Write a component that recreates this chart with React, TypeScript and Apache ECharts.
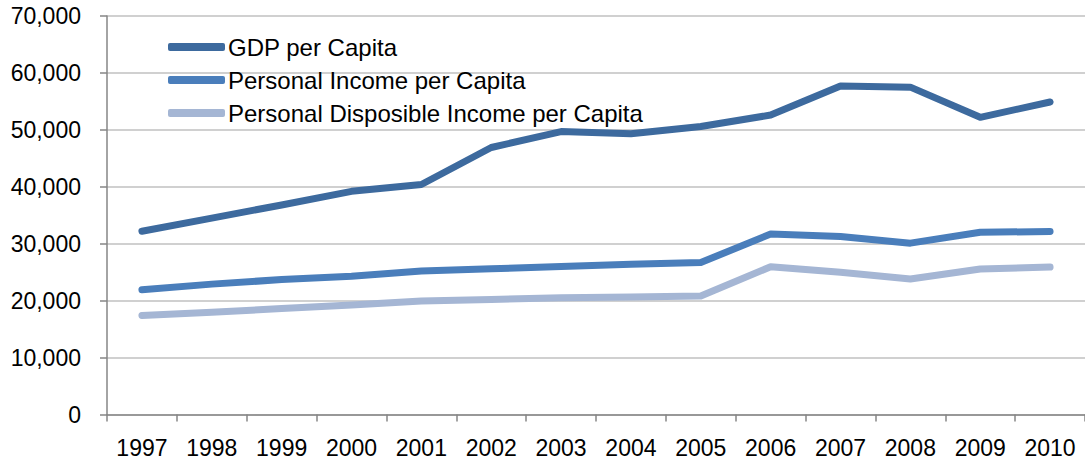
import React, { useEffect, useRef } from "react";
import * as echarts from "echarts";

const years = ["1997", "1998", "1999", "2000", "2001", "2002", "2003", "2004", "2005", "2006", "2007", "2008", "2009", "2010"];
const gdpPerCapita = [32200, 34500, 36800, 39200, 40400, 46900, 49700, 49300, 50600, 52600, 57700, 57500, 52200, 54900];
const personalIncome = [21900, 22900, 23700, 24300, 25200, 25600, 26000, 26400, 26700, 31700, 31250, 30100, 32000, 32150];
const disposableIncome = [17400, 17950, 18600, 19250, 19950, 20200, 20500, 20650, 20800, 25950, 25000, 23800, 25550, 25900];
const seriesNames = ["GDP per Capita", "Personal Income per Capita", "Personal Disposible Income per Capita"];
const colors = ["#3d6a9e", "#4a7ebb", "#a5b6d4"];

const FONT = "Liberation Sans";

export default function App() {
  const ref = useRef<HTMLDivElement>(null);
  useEffect(() => {
    if (!ref.current) return;
    const chart = echarts.init(ref.current, undefined, { renderer: "svg" });
    const data = [gdpPerCapita, personalIncome, disposableIncome];
    chart.setOption({
      animation: false,
      backgroundColor: "#ffffff",
      textStyle: { fontFamily: FONT },
      grid: { left: 107, right: 0, top: 16, bottom: 49.5, containLabel: false },
      legend: {
        orient: "vertical",
        left: 168,
        top: 35,
        padding: 0,
        itemWidth: 57,
        itemHeight: 8,
        itemGap: 9,
        icon: "roundRect",
        textStyle: { fontFamily: FONT, fontSize: 24, color: "#000", lineHeight: 22, padding: [0, 0, 0, -2] },
        data: seriesNames,
      },
      xAxis: {
        type: "category",
        data: years,
        boundaryGap: true,
        axisLine: { lineStyle: { color: "#868686", width: 1.5 } },
        axisTick: { show: true, length: 7, lineStyle: { color: "#868686", width: 1.5 } },
        axisLabel: { fontFamily: FONT, fontSize: 23, color: "#000", margin: 22 },
      },
      yAxis: {
        type: "value",
        min: 0,
        max: 70000,
        interval: 10000,
        axisLine: { show: true, lineStyle: { color: "#868686", width: 1.5 } },
        axisTick: { show: true, length: 7, lineStyle: { color: "#868686", width: 1.5 } },
        splitLine: { lineStyle: { color: "#c0c0c0", width: 1.5 } },
        axisLabel: {
          fontFamily: FONT,
          fontSize: 23,
          color: "#000",
          margin: 26,
          formatter: (v: number) => v.toLocaleString("en-US"),
        },
      },
      series: seriesNames.map((name, i) => ({
        name,
        type: "line",
        data: data[i],
        showSymbol: false,
        symbol: "none",
        color: colors[i],
        lineStyle: { color: colors[i], width: 7, cap: "round", join: "round" },
        itemStyle: { color: colors[i] },
        z: 10 - i,
      })),
    });
    return () => chart.dispose();
  }, []);
  return (
    <div
      ref={ref}
      style={{ position: "fixed", left: 0, top: 0, width: 1085, height: 464, background: "#fff" }}
    />
  );
}
